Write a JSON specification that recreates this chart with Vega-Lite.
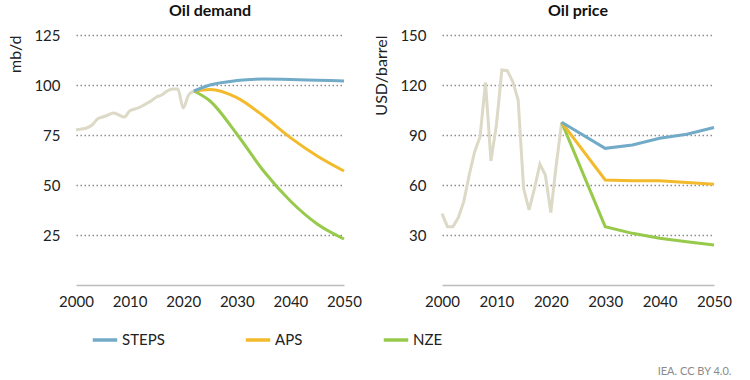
{
  "$schema": "https://vega.github.io/schema/vega-lite/v6.json",
  "padding": {"left": 7, "top": 3, "right": 8, "bottom": 4},
  "background": "white",
  "title": {"text": "IEA. CC BY 4.0.", "orient": "bottom", "anchor": "end", "fontSize": 11, "fontWeight": "normal", "color": "#8a8a8a", "font": "Lato", "offset": 18},
  "config": {
    "font": "Lato",
    "view": {"stroke": null},
    "title": {"fontSize": 16, "fontWeight": "bold", "color": "#111111", "offset": 9},
    "axis": {"labelFont": "Lato", "titleFont": "Lato", "labelFontSize": 15, "labelColor": "#222222", "titleColor": "#222222", "titleFontSize": 16, "titleFontWeight": "normal"},
    "legend": {"labelFont": "Lato", "labelFontSize": 15, "labelColor": "#222222"},
    "concat": {"spacing": 11}
  },
  "datasets": {
    "rows": [
      {"chart": "demand", "series": "Historical", "year": 2000, "value": 77.5},
      {"chart": "demand", "series": "Historical", "year": 2001, "value": 78},
      {"chart": "demand", "series": "Historical", "year": 2002, "value": 78.5},
      {"chart": "demand", "series": "Historical", "year": 2003, "value": 80},
      {"chart": "demand", "series": "Historical", "year": 2004, "value": 83},
      {"chart": "demand", "series": "Historical", "year": 2005, "value": 84},
      {"chart": "demand", "series": "Historical", "year": 2006, "value": 85},
      {"chart": "demand", "series": "Historical", "year": 2007, "value": 86},
      {"chart": "demand", "series": "Historical", "year": 2008, "value": 85},
      {"chart": "demand", "series": "Historical", "year": 2009, "value": 84},
      {"chart": "demand", "series": "Historical", "year": 2010, "value": 87},
      {"chart": "demand", "series": "Historical", "year": 2011, "value": 88},
      {"chart": "demand", "series": "Historical", "year": 2012, "value": 89},
      {"chart": "demand", "series": "Historical", "year": 2013, "value": 90.5},
      {"chart": "demand", "series": "Historical", "year": 2014, "value": 92},
      {"chart": "demand", "series": "Historical", "year": 2015, "value": 94},
      {"chart": "demand", "series": "Historical", "year": 2016, "value": 95},
      {"chart": "demand", "series": "Historical", "year": 2017, "value": 97},
      {"chart": "demand", "series": "Historical", "year": 2018, "value": 98},
      {"chart": "demand", "series": "Historical", "year": 2019, "value": 98},
      {"chart": "demand", "series": "Historical", "year": 2020, "value": 88.5},
      {"chart": "demand", "series": "Historical", "year": 2021, "value": 95},
      {"chart": "demand", "series": "Historical", "year": 2022, "value": 97},
      {"chart": "demand", "series": "NZE", "year": 2022, "value": 97},
      {"chart": "demand", "series": "NZE", "year": 2025, "value": 92},
      {"chart": "demand", "series": "NZE", "year": 2030, "value": 75.5},
      {"chart": "demand", "series": "NZE", "year": 2035, "value": 57},
      {"chart": "demand", "series": "NZE", "year": 2040, "value": 42},
      {"chart": "demand", "series": "NZE", "year": 2045, "value": 30.5},
      {"chart": "demand", "series": "NZE", "year": 2050, "value": 23},
      {"chart": "demand", "series": "APS", "year": 2022, "value": 97},
      {"chart": "demand", "series": "APS", "year": 2025, "value": 97.8},
      {"chart": "demand", "series": "APS", "year": 2030, "value": 93.7},
      {"chart": "demand", "series": "APS", "year": 2035, "value": 84.5},
      {"chart": "demand", "series": "APS", "year": 2040, "value": 73.7},
      {"chart": "demand", "series": "APS", "year": 2045, "value": 64.5},
      {"chart": "demand", "series": "APS", "year": 2050, "value": 57},
      {"chart": "demand", "series": "STEPS", "year": 2022, "value": 97},
      {"chart": "demand", "series": "STEPS", "year": 2025, "value": 100},
      {"chart": "demand", "series": "STEPS", "year": 2030, "value": 102.2},
      {"chart": "demand", "series": "STEPS", "year": 2035, "value": 103},
      {"chart": "demand", "series": "STEPS", "year": 2040, "value": 102.8},
      {"chart": "demand", "series": "STEPS", "year": 2045, "value": 102.4},
      {"chart": "demand", "series": "STEPS", "year": 2050, "value": 102},
      {"chart": "price", "series": "Historical", "year": 2000, "value": 42.8},
      {"chart": "price", "series": "Historical", "year": 2001, "value": 35},
      {"chart": "price", "series": "Historical", "year": 2002, "value": 35},
      {"chart": "price", "series": "Historical", "year": 2003, "value": 40.5},
      {"chart": "price", "series": "Historical", "year": 2004, "value": 50},
      {"chart": "price", "series": "Historical", "year": 2005, "value": 66},
      {"chart": "price", "series": "Historical", "year": 2006, "value": 80},
      {"chart": "price", "series": "Historical", "year": 2007, "value": 89},
      {"chart": "price", "series": "Historical", "year": 2008, "value": 121.5},
      {"chart": "price", "series": "Historical", "year": 2009, "value": 74.5},
      {"chart": "price", "series": "Historical", "year": 2010, "value": 96},
      {"chart": "price", "series": "Historical", "year": 2011, "value": 129},
      {"chart": "price", "series": "Historical", "year": 2012, "value": 128.6},
      {"chart": "price", "series": "Historical", "year": 2013, "value": 122},
      {"chart": "price", "series": "Historical", "year": 2014, "value": 111},
      {"chart": "price", "series": "Historical", "year": 2015, "value": 58},
      {"chart": "price", "series": "Historical", "year": 2016, "value": 45},
      {"chart": "price", "series": "Historical", "year": 2017, "value": 58},
      {"chart": "price", "series": "Historical", "year": 2018, "value": 72.5},
      {"chart": "price", "series": "Historical", "year": 2019, "value": 66},
      {"chart": "price", "series": "Historical", "year": 2020, "value": 43.5},
      {"chart": "price", "series": "Historical", "year": 2021, "value": 72},
      {"chart": "price", "series": "Historical", "year": 2022, "value": 97.6},
      {"chart": "price", "series": "NZE", "year": 2022, "value": 97.6},
      {"chart": "price", "series": "NZE", "year": 2030, "value": 35},
      {"chart": "price", "series": "NZE", "year": 2035, "value": 31},
      {"chart": "price", "series": "NZE", "year": 2040, "value": 28},
      {"chart": "price", "series": "NZE", "year": 2045, "value": 26},
      {"chart": "price", "series": "NZE", "year": 2050, "value": 24},
      {"chart": "price", "series": "APS", "year": 2022, "value": 97.6},
      {"chart": "price", "series": "APS", "year": 2030, "value": 63},
      {"chart": "price", "series": "APS", "year": 2035, "value": 62.5},
      {"chart": "price", "series": "APS", "year": 2040, "value": 62.5},
      {"chart": "price", "series": "APS", "year": 2045, "value": 61.5},
      {"chart": "price", "series": "APS", "year": 2050, "value": 60.5},
      {"chart": "price", "series": "STEPS", "year": 2022, "value": 97.6},
      {"chart": "price", "series": "STEPS", "year": 2030, "value": 82},
      {"chart": "price", "series": "STEPS", "year": 2035, "value": 84},
      {"chart": "price", "series": "STEPS", "year": 2040, "value": 88},
      {"chart": "price", "series": "STEPS", "year": 2045, "value": 90.5},
      {"chart": "price", "series": "STEPS", "year": 2050, "value": 94.5}
    ]
  },
  "data": {"name": "rows"},
  "resolve": {"scale": {"color": "shared"}},
  "hconcat": [
    {
      "width": 268,
      "height": 250,
      "title": "Oil demand",
      "transform": [{"filter": "datum.chart === 'demand'"}],
      "mark": {"type": "line", "strokeWidth": 3, "interpolate": "monotone"},
      "encoding": {
        "x": {"field": "year", "type": "quantitative", "scale": {"domain": [2000, 2050], "nice": false, "zero": false},
              "axis": {"title": null, "values": [2000, 2010, 2020, 2030, 2040, 2050], "format": "d", "grid": false, "ticks": false, "domainColor": "#bdbdbd", "domainWidth": 1.5, "labelPadding": 9, "labelFlush": false}},
        "y": {"field": "value", "type": "quantitative", "scale": {"domain": [0, 125], "nice": false},
              "axis": {"title": "mb/d", "titleAnchor": "end", "titlePadding": 10, "values": [25, 50, 75, 100, 125], "ticks": false, "domain": false, "labelPadding": 16, "gridColor": "#8c8c8c", "gridDash": [1.5, 2.5], "gridWidth": 1.5}},
        "color": {"field": "series", "type": "nominal",
                  "scale": {"domain": ["STEPS", "APS", "NZE", "Historical"], "range": ["#72abc8", "#f3bb2b", "#97c94b", "#dcd9c7"]},
                  "legend": {"values": ["STEPS", "APS", "NZE"], "title": null, "orient": "none", "direction": "horizontal", "legendX": 15, "legendY": 291, "symbolType": "stroke", "symbolSize": 600, "symbolStrokeWidth": 3.5, "labelOffset": 3, "columnPadding": 73, "gridAlign": "each"}},
        "detail": {"field": "series"}
      }
    },
    {
      "width": 272,
      "height": 250,
      "title": "Oil price",
      "transform": [{"filter": "datum.chart === 'price'"}],
      "mark": {"type": "line", "strokeWidth": 3},
      "encoding": {
        "x": {"field": "year", "type": "quantitative", "scale": {"domain": [2000, 2050], "nice": false, "zero": false},
              "axis": {"title": null, "values": [2000, 2010, 2020, 2030, 2040, 2050], "format": "d", "grid": false, "ticks": false, "domainColor": "#bdbdbd", "domainWidth": 1.5, "labelPadding": 9, "labelFlush": false}},
        "y": {"field": "value", "type": "quantitative", "scale": {"domain": [0, 150], "nice": false},
              "axis": {"title": "USD/barrel", "titleAnchor": "end", "titlePadding": 10, "values": [30, 60, 90, 120, 150], "ticks": false, "domain": false, "labelPadding": 16, "gridColor": "#8c8c8c", "gridDash": [1.5, 2.5], "gridWidth": 1.5}},
        "color": {"field": "series", "type": "nominal"},
        "detail": {"field": "series"}
      }
    }
  ]
}
